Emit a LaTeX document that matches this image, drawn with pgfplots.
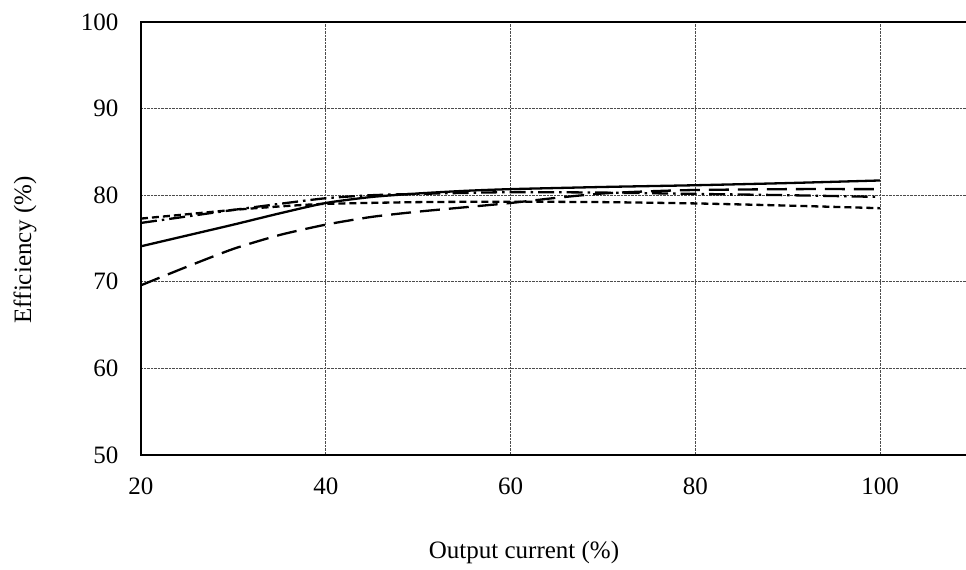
\documentclass[border=0pt]{standalone}
\usepackage{fontspec}
\setmainfont{Liberation Serif}
\usepackage{pgfplots}
\pgfplotsset{compat=1.18}
\begin{document}
\fontsize{25bp}{30bp}\selectfont
\begin{tikzpicture}
\path[use as bounding box] (-141bp,-115bp) rectangle (825bp,455bp);
\begin{axis}[
  at={(0,0)}, anchor=south west,
  scale only axis,
  width=831.4bp, height=433bp,
  xmin=20, xmax=110, ymin=50, ymax=100,
  xtick={20,40,60,80,100}, ytick={50,60,70,80,90,100},
  major tick length=0pt,
  grid=major,
  grid style={densely dotted, black!70, line width=0.7bp},
  axis line style={line width=2.4bp},
  /pgf/number format/assume math mode=true,
  tick label style={font=\fontsize{25bp}{30bp}\selectfont},
  label style={font=\fontsize{25bp}{30bp}\selectfont},
  xticklabel style={yshift=-14bp},
  yticklabel style={xshift=-14bp},
  xlabel={Output current (\%)},
  ylabel={Efficiency (\%)},
  xlabel style={at={(rel axis cs:0.4607,0)}, anchor=center, yshift=-97bp},
  ylabel style={at={(axis description cs:-0.1395,0.474)}, anchor=center},
  every axis plot/.append style={black, line width=2.3bp, smooth, tension=0.4},
]
% solid
\addplot[solid] coordinates {(20,74.1) (25,75.35) (30,76.6) (35,77.9) (40,79.1) (45,79.8) (50,80.2) (55,80.5) (60,80.7) (70,80.95) (80,81.15) (90,81.4) (100,81.7)};
% long dash
\addplot[dash pattern=on 20bp off 9bp] coordinates {(20,69.6) (25,71.75) (30,73.8) (35,75.4) (40,76.6) (45,77.5) (50,78.1) (55,78.6) (60,79.1) (65,79.7) (70,80.2) (75,80.45) (80,80.6) (90,80.7) (100,80.7)};
% dash dot
\addplot[dash pattern=on 16bp off 5bp on 2.5bp off 5bp] coordinates {(20,76.8) (25,77.55) (30,78.3) (35,79.0) (40,79.65) (45,80.0) (50,80.15) (60,80.35) (70,80.3) (80,80.15) (90,80.0) (100,79.8)};
% short dash
\addplot[dash pattern=on 7bp off 4bp] coordinates {(20,77.3) (25,77.8) (30,78.3) (35,78.7) (40,79.0) (50,79.2) (60,79.25) (70,79.2) (80,79.05) (90,78.8) (100,78.5)};
\end{axis}
\end{tikzpicture}
\end{document}
